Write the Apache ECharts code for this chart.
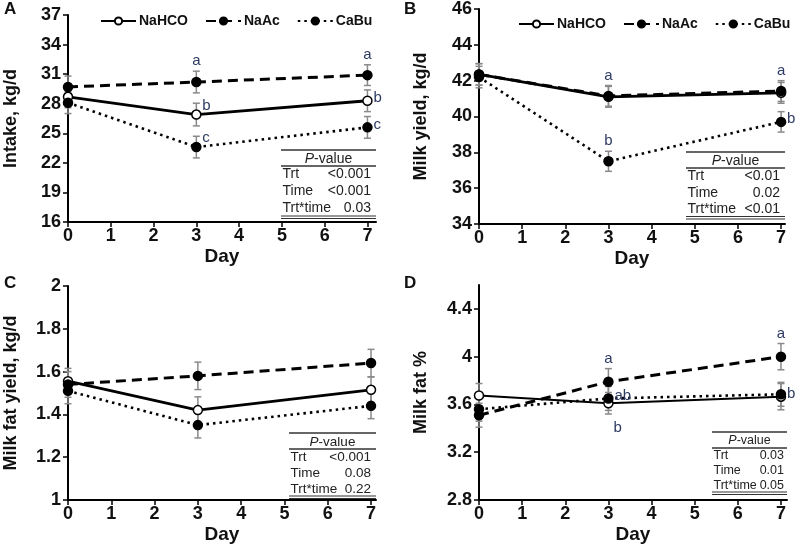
<!DOCTYPE html>
<html>
<head>
<meta charset="utf-8">
<script src="https://cdn.jsdelivr.net/npm/echarts@6/dist/echarts.min.js"></script>
<style>html,body{margin:0;padding:0;background:#fff}#c{width:800px;height:547px}</style>
</head>
<body>
<div id="c"></div>
<script>
// ---------------- data ----------------
const days = [0, 3, 7];
const xTicks = [0, 1, 2, 3, 4, 5, 6, 7];
const seriesNames = ['NaHCO', 'NaAc', 'CaBu'];

// Panel A: Intake, kg/d
const intakeNaHCO = [28.7, 26.9, 28.3];
const intakeNaAc = [29.7, 30.2, 30.9];
const intakeCaBu = [28.1, 23.6, 25.6];
const seIntakeNaHCO = [1.1, 1.15, 1.1];
const seIntakeNaAc = [1.1, 1.1, 1.05];
const seIntakeCaBu = [1.1, 1.1, 1.1];
const ticksA = [16, 19, 22, 25, 28, 31, 34, 37];

// Panel B: Milk yield, kg/d
const milkNaHCO = [42.35, 41.1, 41.32];
const milkNaAc = [42.35, 41.15, 41.42];
const milkCaBu = [42.2, 37.5, 39.7];
const seMilkNaHCO = [0.6, 0.58, 0.58];
const seMilkNaAc = [0.6, 0.58, 0.58];
const seMilkCaBu = [0.6, 0.56, 0.57];
const ticksB = [34, 36, 38, 40, 42, 44, 46];

// Panel C: Milk fat yield, kg/d
const fatYNaHCO = [1.555, 1.42, 1.515];
const fatYNaAc = [1.54, 1.58, 1.64];
const fatYCaBu = [1.51, 1.35, 1.44];
const seFatYNaHCO = [0.06, 0.062, 0.06];
const seFatYNaAc = [0.06, 0.064, 0.064];
const seFatYCaBu = [0.06, 0.06, 0.06];
const ticksC = [1, 1.2, 1.4, 1.6, 1.8, 2];

// Panel D: Milk fat %
const fatPNaHCO = [3.675, 3.61, 3.665];
const fatPNaAc = [3.51, 3.79, 4.0];
const fatPCaBu = [3.56, 3.65, 3.685];
const seFatPNaHCO = [0.1, 0.09, 0.11];
const seFatPNaAc = [0.1, 0.11, 0.11];
const seFatPCaBu = [0.1, 0.1, 0.1];
const ticksD = [2.8, 3.2, 3.6, 4, 4.4];

// significance letters: [day, series, letter, placement]
const lettersA = [[3, 'NaAc', 'a', 'above'], [3, 'NaHCO', 'b', 'rightUp'], [3, 'CaBu', 'c', 'rightUp'],
                  [7, 'NaAc', 'a', 'above'], [7, 'NaHCO', 'b', 'right'], [7, 'CaBu', 'c', 'right']];
const lettersB = [[3, 'NaAc', 'a', 'above'], [3, 'CaBu', 'b', 'above'],
                  [7, 'NaAc', 'a', 'above'], [7, 'CaBu', 'b', 'right']];
const lettersC = [];
const lettersD = [[3, 'NaAc', 'a', 'above'], [3, 'CaBu', 'ab', 'right'], [3, 'NaHCO', 'b', 'below'],
                  [7, 'NaAc', 'a', 'above'], [7, 'NaHCO', 'b', 'right']];

// P-value tables
const pLabels = ['Trt', 'Time', 'Trt*time'];
const pValuesA = ['<0.001', '<0.001', '0.03'];
const pValuesB = ['<0.01', '0.02', '<0.01'];
const pValuesC = ['<0.001', '0.08', '0.22'];
const pValuesD = ['0.03', '0.01', '0.05'];

const yNames = ['Intake, kg/d', 'Milk yield, kg/d', 'Milk fat yield, kg/d', 'Milk fat %'];
const panelLetters = ['A', 'B', 'C', 'D'];

// ---------------- layout ----------------
const FONT = 'Liberation Sans, Arial, sans-serif';
const grids = [
  {left: 68, top: 15, width: 308, height: 207},
  {left: 479, top: 9, width: 306, height: 215},
  {left: 68, top: 286, width: 308, height: 214},
  {left: 479, top: 285, width: 308, height: 215}
];
const xMax = [7.2, 7.09, 7.115, 7.14];
const yRange = [[16, 37], [34, 46], [1, 2], [2.8, 4.6]];
const yTicks = [ticksA, ticksB, ticksC, ticksD];
const yGap = [48, 49, 48, 49];

const panels = [
  {NaHCO: [intakeNaHCO, seIntakeNaHCO], NaAc: [intakeNaAc, seIntakeNaAc], CaBu: [intakeCaBu, seIntakeCaBu]},
  {NaHCO: [milkNaHCO, seMilkNaHCO], NaAc: [milkNaAc, seMilkNaAc], CaBu: [milkCaBu, seMilkCaBu]},
  {NaHCO: [fatYNaHCO, seFatYNaHCO], NaAc: [fatYNaAc, seFatYNaAc], CaBu: [fatYCaBu, seFatYCaBu]},
  {NaHCO: [fatPNaHCO, seFatPNaHCO], NaAc: [fatPNaAc, seFatPNaAc], CaBu: [fatPCaBu, seFatPCaBu]}
];
const letterSets = [lettersA, lettersB, lettersC, lettersD];

const styleOf = {
  NaHCO: {line: {type: 'solid', width: 2.8}, fill: '#fff'},
  NaAc: {line: {type: [10, 6], width: 3}, fill: '#000'},
  CaBu: {line: {type: [2.5, 4], width: 2.6}, fill: '#000'}
};

const xAxes = [], yAxes = [], series = [];
grids.forEach((g, p) => {
  xAxes.push({
    gridIndex: p, type: 'value', min: 0, max: xMax[p],
    name: 'Day', nameLocation: 'middle', nameGap: 25,
    nameTextStyle: {fontFamily: FONT, fontWeight: 'bold', fontSize: 19, color: '#111'},
    axisLine: {lineStyle: {color: '#000', width: 2}},
    axisTick: {customValues: xTicks, length: 5, lineStyle: {color: '#000', width: 1.5}},
    axisLabel: {customValues: xTicks, margin: 5, fontFamily: FONT, fontWeight: 'bold', fontSize: 18, color: '#111'},
    splitLine: {show: false}
  });
  yAxes.push({
    gridIndex: p, type: 'value', min: yRange[p][0], max: yRange[p][1],
    name: yNames[p], nameLocation: 'middle', nameGap: yGap[p],
    nameTextStyle: {fontFamily: FONT, fontWeight: 'bold', fontSize: 18, color: '#111'},
    axisLine: {show: true, lineStyle: {color: '#000', width: 2}},
    axisTick: {customValues: yTicks[p], length: 5, lineStyle: {color: '#000', width: 1.5}},
    axisLabel: {customValues: yTicks[p], margin: 7, fontFamily: FONT, fontWeight: 'bold', fontSize: 18, color: '#111'},
    splitLine: {show: false}
  });

  const pd = panels[p];
  // error bars
  seriesNames.forEach(name => {
    const vals = pd[name][0], ses = pd[name][1];
    series.push({
      type: 'custom', name: name + ' SE', xAxisIndex: p, yAxisIndex: p, z: 1, silent: true,
      data: days.map((d, i) => [d, vals[i], ses[i]]),
      renderItem: function (params, api) {
        const x = api.value(0), y = api.value(1), e = api.value(2);
        const t = api.coord([x, y + e]), b = api.coord([x, y - e]);
        const w = 3.5, st = {stroke: '#8a8a8a', lineWidth: 1.5};
        return {type: 'group', children: [
          {type: 'line', shape: {x1: t[0], y1: t[1], x2: b[0], y2: b[1]}, style: st},
          {type: 'line', shape: {x1: t[0] - w, y1: t[1], x2: t[0] + w, y2: t[1]}, style: st},
          {type: 'line', shape: {x1: b[0] - w, y1: b[1], x2: b[0] + w, y2: b[1]}, style: st}
        ]};
      }
    });
  });
  // lines
  seriesNames.forEach(name => {
    const vals = pd[name][0];
    const s = styleOf[name];
    series.push({
      type: 'line', name: name, xAxisIndex: p, yAxisIndex: p, z: 3,
      data: days.map((d, i) => [d, vals[i]]),
      symbol: 'circle', symbolSize: 9,
      lineStyle: {color: '#000', type: s.line.type, width: p === 3 && name === 'NaHCO' ? 2 : s.line.width},
      itemStyle: {color: s.fill, borderColor: '#000', borderWidth: 1.5, opacity: 1},
      emphasis: {disabled: true}, animation: false
    });
  });
  // letters
  const letters = letterSets[p];
  if (letters.length) {
    series.push({
      type: 'custom', name: 'letters' + p, xAxisIndex: p, yAxisIndex: p, z: 4, silent: true,
      data: letters.map(l => [l[0], pd[l[1]][0][days.indexOf(l[0])]]),
      renderItem: function (params, api) {
        const l = letters[params.dataIndex];
        const idx = days.indexOf(l[0]);
        const v = pd[l[1]][0][idx], e = pd[l[1]][1][idx];
        const pt = api.coord([l[0], v]);
        let x = pt[0], y = pt[1], align = 'left';
        if (l[3] === 'above') { y = api.coord([l[0], v + e])[1] - 10; align = 'center'; }
        else if (l[3] === 'right') { x += 6; y -= 3; }
        else if (l[3] === 'rightUp') { x += 6; y -= 9; }
        else if (l[3] === 'below') { x += 5; y += 25; }
        return {type: 'text', x: x, y: y, style: {text: l[2], fill: '#2e3b63', fontFamily: FONT, fontSize: 15,
          align: align, verticalAlign: 'middle'}};
      }
    });
  }
});

// graphic: panel letters + tables
const graphic = [];
const letterPos = [[4, 1], [404, 1], [4, 275], [404, 275]];
panelLetters.forEach((t, i) => graphic.push({type: 'text', left: letterPos[i][0], top: letterPos[i][1],
  style: {text: t, fontFamily: FONT, fontWeight: 'bold', fontSize: 17, fill: '#111'}}));

const tables = [
  {x1: 281, x2: 376, top: 150, rowH: 17, fs: 14, vr: 5, vals: pValuesA},
  {x1: 686, x2: 785, top: 152, rowH: 16.5, fs: 14, vr: 5, vals: pValuesB},
  {x1: 289, x2: 376, top: 433, rowH: 16, fs: 13.5, vr: 5, vals: pValuesC},
  {x1: 712, x2: 787, top: 432, rowH: 15, fs: 12.5, vr: 3, vals: pValuesD}
];
tables.forEach(t => {
  const ls = {stroke: '#333', lineWidth: 1.5};
  graphic.push({type: 'line', shape: {x1: t.x1, y1: t.top, x2: t.x2, y2: t.top}, style: ls});
  graphic.push({type: 'text', x: (t.x1 + t.x2) / 2, y: t.top + 9,
    style: {text: '{i|P}-value', fontFamily: FONT, fontSize: t.fs, fill: '#222', align: 'center', verticalAlign: 'middle',
      rich: {i: {fontStyle: 'italic', fontFamily: FONT, fontSize: t.fs, fill: '#222'}}}});
  graphic.push({type: 'line', shape: {x1: t.x1, y1: t.top + 16, x2: t.x2, y2: t.top + 16}, style: ls});
  pLabels.forEach((lab, i) => {
    const cy = t.top + 16 + t.rowH * (i + 0.5);
    graphic.push({type: 'text', x: t.x1 + 1.5, y: cy, style: {text: lab, fontFamily: FONT, fontSize: t.fs, fill: '#222', align: 'left', verticalAlign: 'middle'}});
    graphic.push({type: 'text', x: t.x2 - t.vr, y: cy, style: {text: t.vals[i], fontFamily: FONT, fontSize: t.fs, fill: '#222', align: 'right', verticalAlign: 'middle'}});
  });
  const b1 = t.top + 16 + 3 * t.rowH;
  graphic.push({type: 'line', shape: {x1: t.x1, y1: b1 - 1, x2: t.x2, y2: b1 - 1}, style: {stroke: '#333', lineWidth: 1.2}});
  graphic.push({type: 'line', shape: {x1: t.x1, y1: b1 + 1.5, x2: t.x2, y2: b1 + 1.5}, style: {stroke: '#333', lineWidth: 1.2}});
});

const legendCommon = {
  data: seriesNames, orient: 'horizontal', itemWidth: 35, itemHeight: 9, itemGap: 17,
  textStyle: {fontFamily: FONT, fontWeight: 'bold', fontSize: 14, color: '#111', padding: [0, 0, 0, -2]},
  selectedMode: false
};

const chart = echarts.init(document.getElementById('c'), null, {renderer: 'canvas'});
chart.setOption({
  backgroundColor: '#fff',
  animation: false,
  grid: grids,
  xAxis: xAxes,
  yAxis: yAxes,
  legend: [
    Object.assign({left: 95, top: 9}, legendCommon),
    Object.assign({left: 513, top: 12}, legendCommon)
  ],
  series: series,
  graphic: graphic
});
</script>
</body>
</html>
